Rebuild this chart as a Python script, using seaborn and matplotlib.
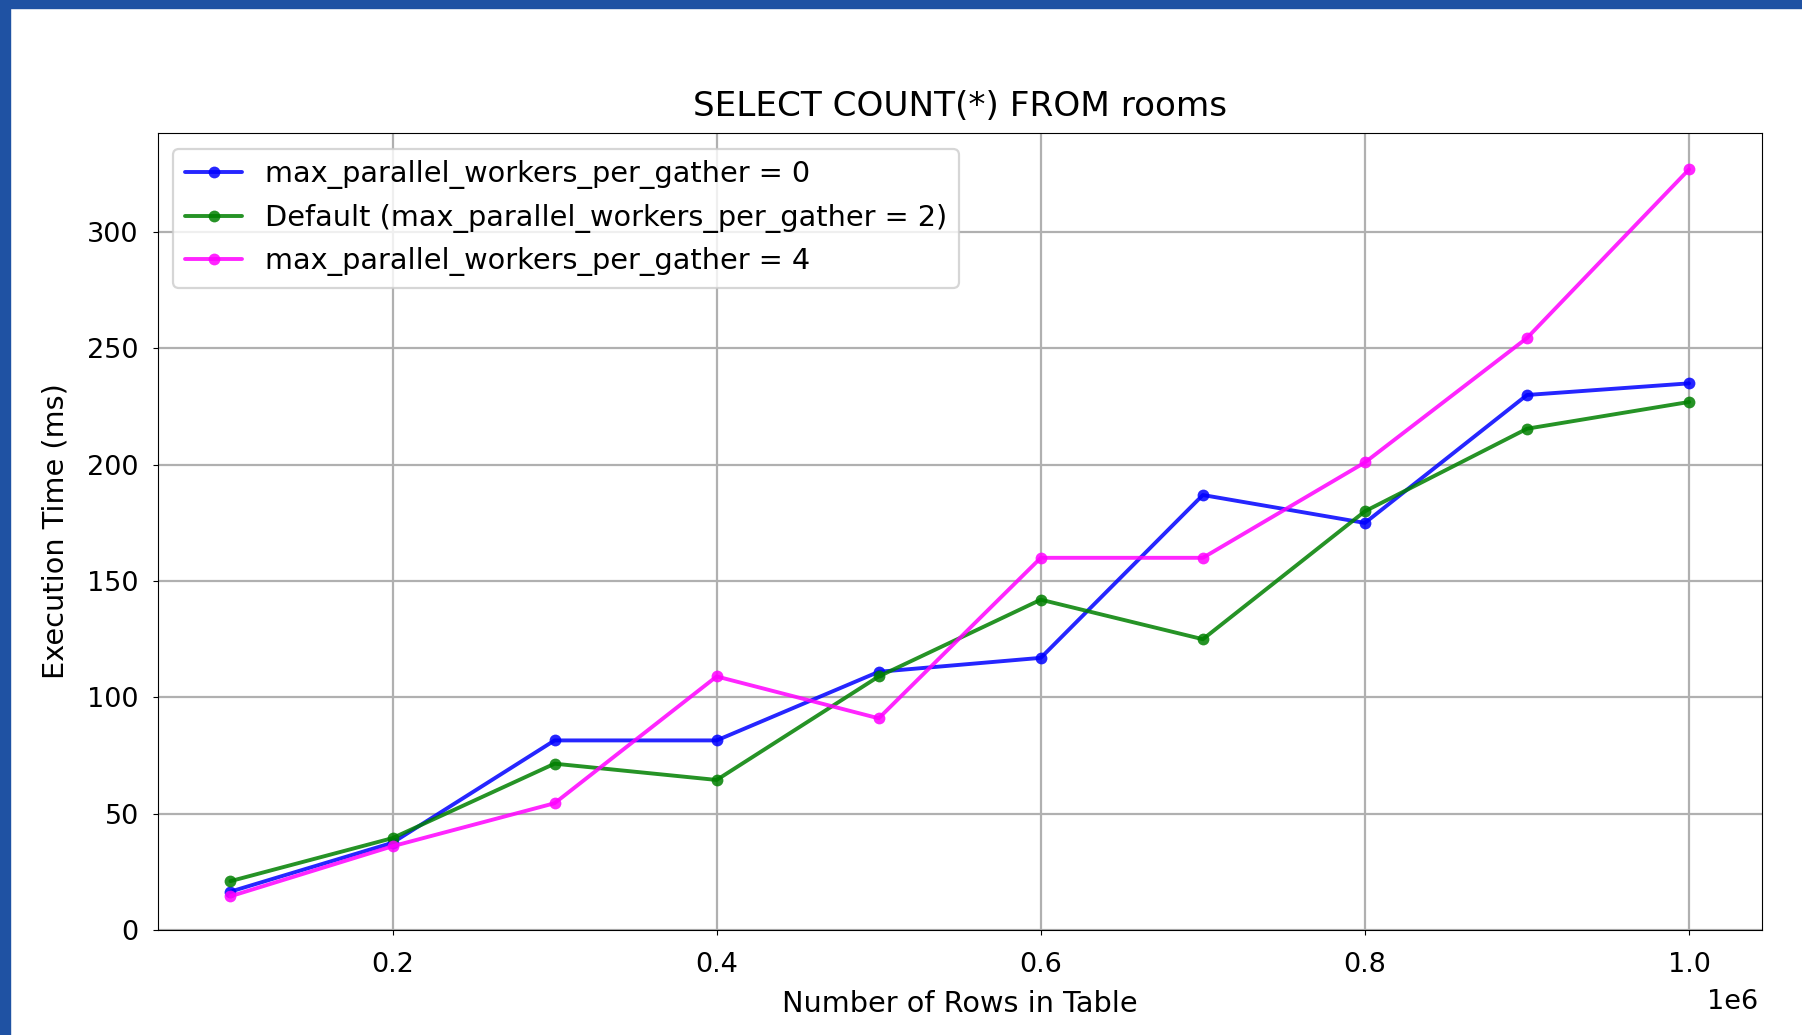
import matplotlib
matplotlib.use("Agg")
import matplotlib.pyplot as plt
from matplotlib.patches import Rectangle
import seaborn as sns
import pandas as pd

# Table sizes (rows) and measured execution times in milliseconds
rows = [100000, 200000, 300000, 400000, 500000, 600000, 700000, 800000, 900000, 1000000]
workers_0 = [16.5, 37.5, 81.5, 81.5, 111, 117, 187, 175, 230, 235]
workers_default = [21, 39.5, 71.5, 64.5, 109, 142, 125, 180, 215.5, 227]
workers_4 = [14.5, 36, 54.5, 109, 91, 160, 160, 201, 254.5, 327]

series_labels = [
    "max_parallel_workers_per_gather = 0",
    "Default (max_parallel_workers_per_gather = 2)",
    "max_parallel_workers_per_gather = 4",
]
series_colors = ["blue", "green", "magenta"]

sns.set_style("ticks", rc={
    "axes.edgecolor": "black",
    "axes.linewidth": 1.6,
    "xtick.color": "black",
    "ytick.color": "black",
    "text.color": "black",
    "axes.labelcolor": "black",
    "xtick.major.size": 6.5,
    "ytick.major.size": 6.5,
    "xtick.major.width": 1.6,
    "ytick.major.width": 1.6,
    "axes.grid": True,
    "grid.color": "#b0b0b0",
    "grid.linewidth": 1.6,
})
plt.rcParams["font.family"] = ["DejaVu Sans"]

fig = plt.figure(figsize=(18.02, 10.35), dpi=100)
ax = fig.add_axes([157.5 / 1802, 1 - 930 / 1035, (1762 - 157.5) / 1802, (930 - 133) / 1035])

for vals, label, color in zip([workers_0, workers_default, workers_4], series_labels, series_colors):
    df = pd.DataFrame({"rows": rows, "time": vals})
    sns.lineplot(data=df, x="rows", y="time", ax=ax, color=color, label=label,
                 marker="o", markersize=8.5, markeredgecolor=color, markeredgewidth=0,
                 linewidth=2.8, alpha=0.85)

ax.set_ylim(bottom=0)

ax.set_title("SELECT COUNT(*) FROM rooms", fontsize=24.7, pad=12)
ax.set_xlabel("Number of Rows in Table", fontsize=20.7, labelpad=9)
ax.set_ylabel("Execution Time (ms)", fontsize=20.7, labelpad=13)
ax.tick_params(labelsize=19.5, pad=10)
ax.tick_params(axis="x", pad=12)
ax.set_xticks([200000, 400000, 600000, 800000, 1000000])
ax.ticklabel_format(axis="x", style="sci", scilimits=(0, 0))
ax.xaxis.get_major_formatter().set_useMathText(False)

# Scale factor shown under the right end of the x axis
ax.xaxis.get_offset_text().set_visible(False)
ax.text(0.9975, -0.0903, "1e6", transform=ax.transAxes, ha="right", va="center",
        fontsize=19.5)
ax.grid(True, color="#b0b0b0", linewidth=1.6)

leg = ax.legend(loc="upper left", fontsize=20.7, frameon=True, framealpha=0.8,
                edgecolor="#cccccc", fancybox=True, handlelength=2.0,
                borderaxespad=0.55)
leg.get_frame().set_linewidth(1.6)

# Blue frame strips along the top and left edges of the figure
fig.patches.append(Rectangle((0, 1 - 8 / 1035), 1, 8 / 1035, transform=fig.transFigure,
                             color="#1f52a3", zorder=10))
fig.patches.append(Rectangle((0, 0), 10 / 1802, 1, transform=fig.transFigure,
                             color="#1f52a3", zorder=10))

fig.savefig("out.png", dpi=100)
